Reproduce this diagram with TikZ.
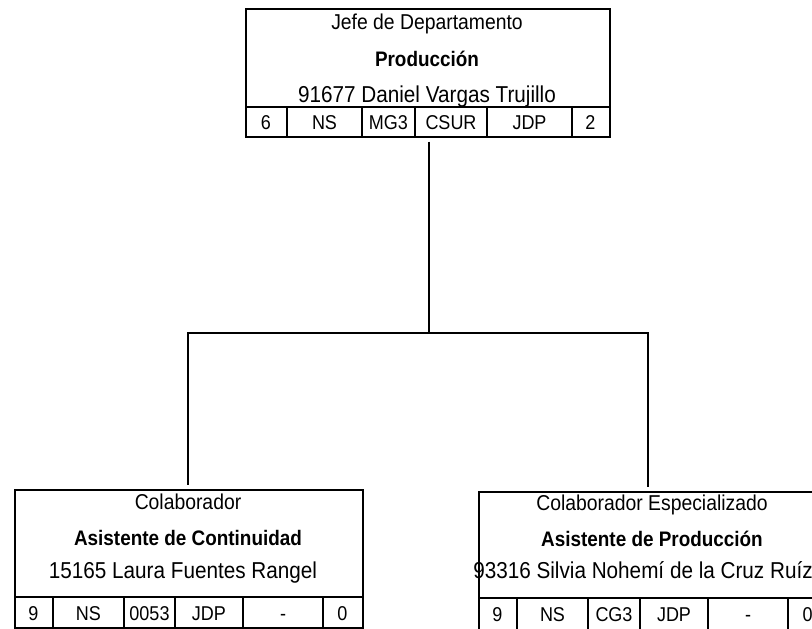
\documentclass[tikz,border=0pt]{standalone}
\usepackage{fontspec}
\setmainfont[FakeStretch=0.9]{Liberation Sans}
\begin{document}
\begin{tikzpicture}[x=1pt,y=-1pt,
  box/.style={draw=black, line width=1.6pt, inner sep=0pt, anchor=north west},
  rule/.style={line width=1.6pt},
  conn/.style={line width=1.6pt},
  txt/.style={inner sep=0pt, anchor=base, font=\fontsize{21.5}{25}\selectfont},
  ntxt/.style={inner sep=0pt, anchor=base, font=\fontsize{23}{26}\selectfont},
  btxt/.style={inner sep=0pt, anchor=base, font=\fontsize{21}{25}\selectfont\bfseries},
  ctxt/.style={inner sep=0pt, anchor=base, font=\fontsize{20}{24}\selectfont}]
\useasboundingbox (0,0) rectangle (812,629);

% ---------- top box ----------
\node[box, minimum width=364pt, minimum height=128pt] (top) at (245,8) {};
\draw[rule] (245,107) -- (609,107);
\foreach \x in {287,362,415,487,572} \draw[rule] (\x,107) -- (\x,136);
\node[txt]  (t1) at (427,30) {Jefe de Departamento};
\node[btxt] (t2) at (427,66) {Producción};
\node[ntxt] (t3) at (427,102) {91677 Daniel Vargas Trujillo};
\node[ctxt] (tc1) at (266,129) {6};
\node[ctxt] (tc2) at (324.5,129) {NS};
\node[ctxt] (tc3) at (388.5,129) {MG3};
\node[ctxt] (tc4) at (451,129) {CSUR};
\node[ctxt] (tc5) at (529.5,129) {JDP};
\node[ctxt] (tc6) at (590.5,129) {2};

% ---------- left box ----------
\node[box, minimum width=348pt, minimum height=138pt] (left) at (14,489) {};
\draw[rule] (14,597) -- (362,597);
\foreach \x in {53,124,175,243,323} \draw[rule] (\x,597) -- (\x,627);
\node[txt]  (l1) at (188,509) {Colaborador};
\node[btxt] (l2) at (188,545) {Asistente de Continuidad};
\node[ntxt] (l3) at (183,578) {15165 Laura Fuentes Rangel};
\node[ctxt] (lc1) at (33.5,620) {9};
\node[ctxt] (lc2) at (88.5,620) {NS};
\node[ctxt] (lc3) at (149.5,620) {0053};
\node[ctxt] (lc4) at (209,620) {JDP};
\node[ctxt] (lc5) at (283,620) {-};
\node[ctxt] (lc6) at (342.5,620) {0};

% ---------- right box ----------
\node[box, minimum width=349pt, minimum height=142pt] (right) at (478,491) {};
\draw[rule] (478,598) -- (827,598);
\foreach \x in {517,588,640,708,788} \draw[rule] (\x,598) -- (\x,633);
\node[txt]  (r1) at (652,510) {Colaborador Especializado};
\node[btxt] (r2) at (652,546) {Asistente de Producción};
\node[ntxt] (r3) at (643,578) {93316 Silvia Nohemí de la Cruz Ruíz};
\node[ctxt] (rc1) at (497.5,621) {9};
\node[ctxt] (rc2) at (552.5,621) {NS};
\node[ctxt] (rc3) at (614,621) {CG3};
\node[ctxt] (rc4) at (674,621) {JDP};
\node[ctxt] (rc5) at (748,621) {-};
\node[ctxt] (rc6) at (807.5,621) {0};

% ---------- connectors ----------
\coordinate (bm) at (429,333);
\coordinate (bl) at (188,333);
\coordinate (br) at (648,333);
\draw[conn, shorten <=4pt] (top.south -| bm) -- (bm);
\draw[conn] ([xshift=-0.8pt]bl) -- ([xshift=0.8pt]br);
\draw[conn, shorten >=4pt] (bl) -- (bl |- left.north);
\draw[conn, shorten >=4pt] (br) -- (br |- right.north);
\end{tikzpicture}
\end{document}
